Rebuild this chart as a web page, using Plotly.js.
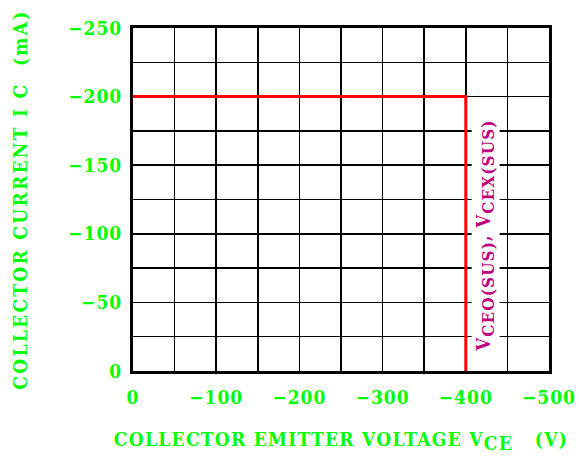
<!DOCTYPE html>
<html><head><meta charset="utf-8">
<script src="https://cdn.plot.ly/plotly-3.0.1.min.js"></script>
<style>body{margin:0;background:#fff}#c{width:579px;height:459px}</style>
</head><body><div id="c"></div>
<script>
const limitX = [0, -400, -400];
const limitY = [-200, -200, 0];
const xTickVals = [0, -100, -200, -300, -400, -500];
const xTickText = ['0', '\u2212100', '\u2212200', '\u2212300', '\u2212400', '\u2212500'];
const yTickVals = [0, -50, -100, -150, -200, -250];
const yTickText = ['0', '\u221250', '\u2212100', '\u2212150', '\u2212200', '\u2212250'];

const FONT = 'DejaVu Serif Condensed, DejaVu Serif, serif';
const GREEN = '#00ff00';
const MAG = '#bf0080';
const f = (size, color) => ({family: FONT, color: color, size: size, weight: 'bold', stretch: 'condensed'});
const ls = (t, px) => `<span style='letter-spacing:${px}px'>${t}</span>`;

const trace = {
  x: limitX, y: limitY, type: 'scatter', mode: 'lines',
  line: {color: '#ff0000', width: 3}, hoverinfo: 'skip', showlegend: false
};

const layout = {
  width: 579, height: 459,
  margin: {l: 133, r: 30, t: 28, b: 88},
  paper_bgcolor: '#fff', plot_bgcolor: '#fff',
  font: f(19, GREEN),
  xaxis: {
    range: [0, -500], autorange: false,
    tickvals: xTickVals, ticktext: xTickText.map(t => ls(t, 1)),
    showgrid: true, gridcolor: '#000', gridwidth: 1.5,
    minor: {tickvals: [-50, -150, -250, -350, -450], showgrid: true, gridcolor: '#000', gridwidth: 1.5, ticks: ''},
    zeroline: false, showline: true, mirror: true, linecolor: '#000', linewidth: 3,
    ticks: '', ticklabelstandoff: 7,
    tickfont: f(19, GREEN),
    title: {text: ls("COLLECTOR EMITTER VOLTAGE V<sub><span style='font-size:19px'>CE</span></sub>   (V)", 1.3), font: f(19, GREEN), standoff: 26},
    automargin: false
  },
  yaxis: {
    range: [0, -250], autorange: false,
    tickvals: yTickVals, ticktext: yTickText.map(t => ls(t, 1)),
    showgrid: true, gridcolor: '#000', gridwidth: 1.5,
    minor: {tickvals: [-25, -75, -125, -175, -225], showgrid: true, gridcolor: '#000', gridwidth: 1.5, ticks: ''},
    zeroline: false, showline: true, mirror: true, linecolor: '#000', linewidth: 3,
    ticks: '', ticklabelstandoff: 4,
    tickfont: f(19, GREEN),
    title: {text: ls('COLLECTOR CURRENT I C  (mA)', 2.3), font: f(19, GREEN), standoff: 36},
    automargin: false
  },
  annotations: [{
    x: -400, y: -99, xref: 'x', yref: 'y', xanchor: 'left', yanchor: 'middle', xshift: 5,
    text: ls("V<sub><span style='font-size:17px'>CEO(SUS)</span></sub>, V<sub><span style='font-size:17px'>CEX(SUS)</span></sub>", 1.1),
    textangle: -90, showarrow: false, bgcolor: '#fff',
    font: f(18, MAG)
  }]
};

Plotly.newPlot('c', [trace], layout, {staticPlot: true, displayModeBar: false});
</script></body></html>
